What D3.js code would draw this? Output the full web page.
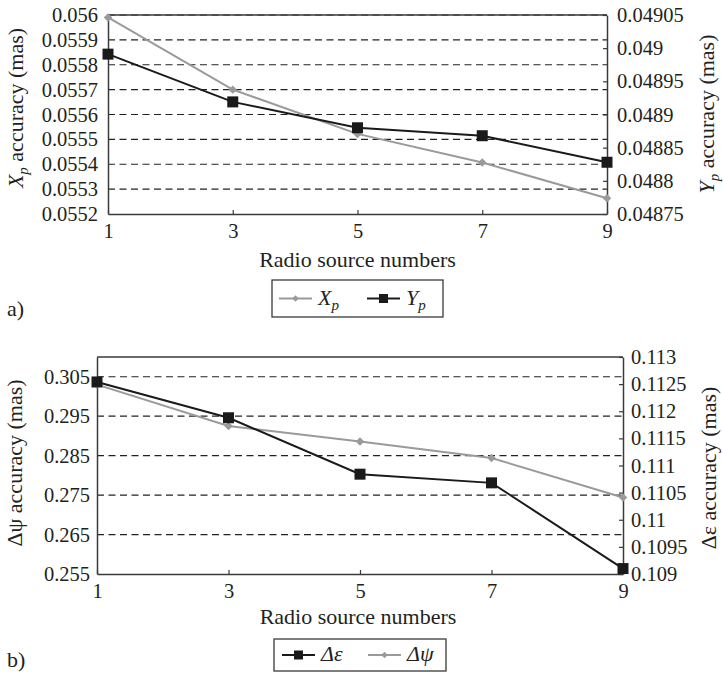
<!DOCTYPE html>
<html>
<head>
<meta charset="utf-8">
<script src="https://cdn.jsdelivr.net/npm/d3@7"></script>
<style>
  body { margin: 0; background: #fff; }
</style>
</head>
<body>
<svg id="chart" width="723" height="675"></svg>
<script>
// radio source numbers
var sourceNumbers = [1, 3, 5, 7, 9];

// panel a)
var xpValues = [0.05599, 0.05570, 0.055522, 0.055407, 0.055263];
var ypValues = [0.048991, 0.048919, 0.04888, 0.048868, 0.048828];
var xpTicks = [0.0552, 0.0553, 0.0554, 0.0555, 0.0556, 0.0557, 0.0558, 0.0559, 0.056];
var ypTicks = [0.04875, 0.0488, 0.04885, 0.0489, 0.04895, 0.049, 0.04905];

// panel b)
var dpsiValues = [0.3030, 0.2925, 0.2886, 0.2844, 0.2744];
var depsValues = [0.11254, 0.11188, 0.11084, 0.11068, 0.10910];
var dpsiTicks = [0.255, 0.265, 0.275, 0.285, 0.295, 0.305];
var depsTicks = [0.109, 0.1095, 0.11, 0.1105, 0.111, 0.1115, 0.112, 0.1125, 0.113];

var GRAY = '#9a9a9a', BLACK = '#1a1a1a', FRAME = '#3a3a3a', INK = '#231f20';
var svg = d3.select('#chart');

function serifText(sel, size) {
    return sel.attr('font-family', null)
        .style('font-family', "'Liberation Serif'")
        .attr('font-size', size)
        .attr('fill', INK);
}

function drawPanel(opt) {
    var g = svg.append('g');
    var x = d3.scaleLinear().domain([1, 9]).range([opt.left, opt.right]);
    var yL = d3.scaleLinear().domain(opt.leftDomain).range([opt.bottom, opt.top]);
    var yR = d3.scaleLinear().domain(opt.rightDomain).range([opt.bottom, opt.top]);

    /* dashed gridlines from the left axis */
    g.selectAll('line.grid')
        .data(opt.leftTicks.filter(function(d) { return d > opt.leftDomain[0]; }))
        .enter().append('line')
        .attr('x1', opt.left).attr('x2', opt.right)
        .attr('y1', function(d) { return yL(d); })
        .attr('y2', function(d) { return yL(d); })
        .attr('stroke', '#222').attr('stroke-width', 1.2)
        .attr('stroke-dasharray', '7,4.5');

    /* frame top line */
    g.append('line')
        .attr('x1', opt.left).attr('x2', opt.right)
        .attr('y1', opt.top).attr('y2', opt.top)
        .attr('stroke', FRAME).attr('stroke-width', 1.5);

    var xAxis = g.append('g')
        .attr('transform', 'translate(0,' + opt.bottom + ')')
        .call(d3.axisBottom(x).tickValues(sourceNumbers).tickSizeInner(-4).tickSizeOuter(0).tickPadding(9));
    var leftAxis = g.append('g')
        .attr('transform', 'translate(' + opt.left + ',0)')
        .call(d3.axisLeft(yL).tickValues(opt.leftTicks).tickSize(0).tickPadding(opt.leftPad)
            .tickFormat(function(d) { return String(d); }));
    var rightAxis = g.append('g')
        .attr('transform', 'translate(' + opt.right + ',0)')
        .call(d3.axisRight(yR).tickValues(opt.rightTicks).tickSizeInner(-4).tickSizeOuter(0).tickPadding(opt.rightPad)
            .tickFormat(function(d) { return String(d); }));

    [xAxis, leftAxis, rightAxis].forEach(function(a) {
        a.attr('font-family', null).attr('font-size', null);
        a.select('.domain').attr('stroke', FRAME).attr('stroke-width', 1.5);
        a.selectAll('.tick line').attr('stroke', FRAME).attr('stroke-width', 1.2);
        serifText(a.selectAll('.tick text'), 20.5);
    });

    var line = function(scale) {
        return d3.line()
            .x(function(d, i) { return x(sourceNumbers[i]); })
            .y(function(d) { return scale(d); });
    };

    opt.series.forEach(function(s) {
        var scale = s.axis === 'left' ? yL : yR;
        g.append('path')
            .datum(s.values)
            .attr('d', line(scale))
            .attr('fill', 'none')
            .attr('stroke', s.color)
            .attr('stroke-width', 2);
        g.selectAll(null)
            .data(s.values)
            .enter().append('path')
            .attr('transform', function(d, i) {
                return 'translate(' + x(sourceNumbers[i]) + ',' + scale(d) + ')' + (s.shape === 'diamond' ? ' rotate(45)' : '');
            })
            .attr('d', d3.symbol(d3.symbolSquare, s.shape === 'diamond' ? 36 : 121))
            .attr('fill', s.color);
    });

    /* x title */
    serifText(g.append('text'), 22)
        .attr('x', (opt.left + opt.right) / 2 + opt.titleDx).attr('y', opt.bottom + opt.titleDy)
        .attr('text-anchor', 'middle')
        .text('Radio source numbers');

    /* axis titles */
    var lt = serifText(g.append('text'), 22)
        .attr('transform', 'translate(' + opt.leftTitleX + ',' + opt.leftTitleY + ') rotate(-90)')
        .attr('text-anchor', 'middle');
    opt.leftTitle(lt);
    var rt = serifText(g.append('text'), 22)
        .attr('transform', 'translate(' + opt.rightTitleX + ',' + opt.rightTitleY + ') rotate(-90)')
        .attr('text-anchor', 'middle');
    opt.rightTitle(rt);

    /* legend */
    var lg = g.append('g');
    lg.append('rect')
        .attr('x', opt.legend.x).attr('y', opt.legend.y)
        .attr('width', opt.legend.w).attr('height', opt.legend.h)
        .attr('fill', 'none').attr('stroke', FRAME).attr('stroke-width', 1.3);
    var cy = opt.legend.y + opt.legend.h / 2;
    opt.legend.items.forEach(function(it) {
        lg.append('line')
            .attr('x1', it.x).attr('x2', it.x + 33)
            .attr('y1', cy).attr('y2', cy)
            .attr('stroke', it.color).attr('stroke-width', 2);
        lg.append('path')
            .attr('transform', 'translate(' + (it.x + 16.5) + ',' + cy + ')' + (it.shape === 'diamond' ? ' rotate(45)' : ''))
            .attr('d', d3.symbol(d3.symbolSquare, it.shape === 'diamond' ? 22 : 81))
            .attr('fill', it.color);
        var t = serifText(lg.append('text'), 22)
            .attr('x', it.x + 39).attr('y', cy + 6)
            .attr('font-style', 'italic');
        it.label(t);
    });

    serifText(g.append('text'), 22)
        .attr('x', 7).attr('y', opt.tagY)
        .text(opt.tag);
}

function subLabel(letter, sub, rest) {
    return function(t) {
        t.append('tspan').attr('font-style', 'italic').text(letter);
        t.append('tspan').attr('font-style', 'italic').attr('font-size', 15).attr('dy', 5).text(sub);
        if (rest) t.append('tspan').attr('font-style', 'normal').attr('dy', -5).text(rest);
    };
}

function plainLabel(txt) {
    return function(t) { t.text(txt); };
}

drawPanel({
    left: 108, right: 607, top: 15, bottom: 214,
    leftDomain: [0.0552, 0.056], rightDomain: [0.04875, 0.04905],
    leftTicks: xpTicks, rightTicks: ypTicks,
    leftPad: 10, rightPad: 10,
    titleDx: 0, titleDy: 53,
    series: [
        { values: xpValues, axis: 'left', color: GRAY, shape: 'diamond' },
        { values: ypValues, axis: 'right', color: BLACK, shape: 'square' }
    ],
    leftTitleX: 23, leftTitleY: 108,
    leftTitle: subLabel('X', 'p', ' accuracy (mas)'),
    rightTitleX: 714, rightTitleY: 114,
    rightTitle: subLabel('Y', 'p', ' accuracy (mas)'),
    legend: {
        x: 272, y: 280, w: 171, h: 37,
        items: [
            { x: 279, color: GRAY, shape: 'diamond', label: subLabel('X', 'p') },
            { x: 367, color: BLACK, shape: 'square', label: subLabel('Y', 'p') }
        ]
    },
    tag: 'a)', tagY: 316
});

drawPanel({
    left: 97, right: 623, top: 357, bottom: 574,
    leftDomain: [0.255, 0.31], rightDomain: [0.109, 0.113],
    leftTicks: dpsiTicks, rightTicks: depsTicks,
    leftPad: 7, rightPad: 8,
    titleDx: -2, titleDy: 50,
    series: [
        { values: dpsiValues, axis: 'left', color: GRAY, shape: 'diamond' },
        { values: depsValues, axis: 'right', color: BLACK, shape: 'square' }
    ],
    leftTitleX: 22, leftTitleY: 463,
    leftTitle: plainLabel('\u0394\u03c8 accuracy (mas)'),
    rightTitleX: 716, rightTitleY: 468,
    rightTitle: plainLabel('\u0394\u03b5 accuracy (mas)'),
    legend: {
        x: 274, y: 639, w: 172, h: 32,
        items: [
            { x: 282, color: BLACK, shape: 'square', label: plainLabel('\u0394\u03b5') },
            { x: 368, color: GRAY, shape: 'diamond', label: plainLabel('\u0394\u03c8') }
        ]
    },
    tag: 'b)', tagY: 667
});
</script>
</body>
</html>
